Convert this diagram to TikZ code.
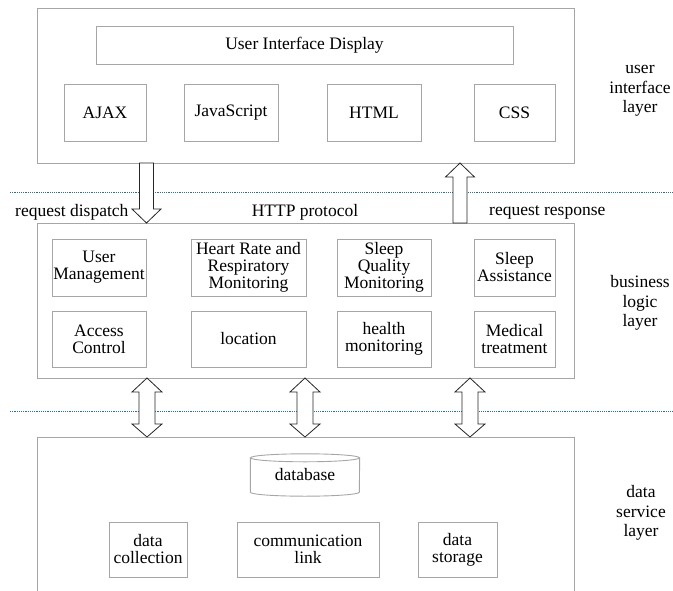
\documentclass[tikz,border=0pt]{standalone}
\usepackage{fontspec}
\setmainfont{Liberation Serif}
\usetikzlibrary{calc}
\definecolor{boxgray}{HTML}{A6A6A6}
\definecolor{dotblue}{HTML}{2F6F92}
\begin{document}
\begin{tikzpicture}[x=1pt,y=1pt,
  box/.style={draw=boxgray,line width=0.9pt,inner sep=0pt,outer sep=0pt,anchor=north west,
    align=center,font=\fontsize{17.5}{17}\selectfont},
  lbl/.style={inner sep=0pt,font=\fontsize{17.5}{17}\selectfont},
  side/.style={inner sep=0pt,align=center,font=\fontsize{17.5}{19.5}\selectfont},
  blk/.style={draw=black!85,fill=white,line width=0.8pt,line join=miter},
  sep/.style={draw=dotblue,line width=1pt,dash pattern=on 1.1pt off 1.1pt}]
\useasboundingbox (0,0) rectangle (673,-590);

% layer containers
\node[box,minimum width=537pt,minimum height=155pt] (top) at (37,-8) {};
\node[box,minimum width=537pt,minimum height=155pt] (mid) at (37,-223) {};
\node[box,minimum width=537pt,minimum height=170pt] (bot) at (37,-437) {};

% user interface layer
\node[box,minimum width=417pt,minimum height=38pt] (uid) at (96,-26) {User Interface Display};
\node[box,minimum width=82pt,minimum height=57pt] (ajax) at (64,-84) {AJAX};
\node[box,minimum width=94pt,minimum height=57pt] (js) at (184,-84) {JavaScript};
\node[box,minimum width=94pt,minimum height=57pt] (html) at (327,-84) {HTML};
\node[box,minimum width=81pt,minimum height=57pt] (css) at (474,-84) {CSS};

% business logic layer
\node[box,minimum width=94pt,minimum height=57pt] (um) at (52,-239) {User\\Management};
\node[box,minimum width=115pt,minimum height=57pt] (hr) at (191,-239) {Heart Rate and\\Respiratory\\Monitoring};
\node[box,minimum width=94pt,minimum height=57pt] (sq) at (337,-239) {Sleep\\Quality\\Monitoring};
\node[box,minimum width=81pt,minimum height=57pt] (sa) at (474,-239) {Sleep\\Assistance};
\node[box,minimum width=94pt,minimum height=56pt] (ac) at (52,-311) {Access\\Control};
\node[box,minimum width=115pt,minimum height=56pt] (loc) at (191,-311) {location};
\node[box,minimum width=94pt,minimum height=56pt] (hm) at (337,-311) {health\\monitoring};
\node[box,minimum width=81pt,minimum height=56pt] (mt) at (474,-311) {Medical\\treatment};

% data service layer
\node[lbl,minimum width=109pt,minimum height=42pt] (db) at (305,-475) {database};
\draw[draw=boxgray,line width=0.9pt]
  ($(db.north west)+(0,-4)$) -- ($(db.south west)+(0,4)$)
  arc[start angle=180,end angle=360,x radius=54.5pt,y radius=4pt]
  -- ($(db.north east)+(0,-4)$);
\draw[draw=boxgray,line width=0.9pt] ($(db.north)+(0,-4)$) ellipse[x radius=54.5pt,y radius=4pt];
\node[box,minimum width=78pt,minimum height=55pt] (dc) at (109,-522) {data\\collection};
\node[box,minimum width=142pt,minimum height=55pt] (cl) at (237,-522) {communication\\link};
\node[box,minimum width=79pt,minimum height=55pt] (ds) at (418,-522) {data\\storage};

% separators
\coordinate (s1a) at (10,-192); \coordinate (s1b) at (673,-192);
\coordinate (s2a) at (10,-411); \coordinate (s2b) at (673,-411);
\draw[sep] (s1a) -- (s1b);
\draw[sep] (s2a) -- (s2b);

% down arrow: request dispatch
\coordinate (d1) at (top.south -| 146.5,0);
\coordinate (d1e) at (mid.north -| 146.5,0);
\draw[blk] ($(d1)+(-7,0)$) -- ($(d1e)+(-7,14)$) -- ($(d1e)+(-14.5,14)$) -- (d1e)
  -- ($(d1e)+(14.5,14)$) -- ($(d1e)+(7,14)$) -- ($(d1)+(7,0)$) -- cycle;

% up arrow: request response
\coordinate (u1) at (mid.north -| 460,0);
\coordinate (u1e) at (top.south -| 460,0);
\draw[blk] ($(u1)+(-7,0)$) -- ($(u1e)+(-7,-14)$) -- ($(u1e)+(-14.5,-14)$) -- (u1e)
  -- ($(u1e)+(14.5,-14)$) -- ($(u1e)+(7,-14)$) -- ($(u1)+(7,0)$) -- cycle;

% double arrows
\foreach \xx/\nm in {147/da,305/db2,470/dc2}{
  \coordinate (\nm t) at (mid.south -| \xx,0);
  \coordinate (\nm b) at (bot.north -| \xx,0);
  \draw[blk] (\nm t) -- ($(\nm t)+(15,-14)$) -- ($(\nm t)+(8,-14)$) -- ($(\nm b)+(8,13)$)
    -- ($(\nm b)+(15,13)$) -- (\nm b) -- ($(\nm b)+(-15,13)$) -- ($(\nm b)+(-8,13)$)
    -- ($(\nm t)+(-8,-14)$) -- ($(\nm t)+(-15,-14)$) -- cycle;
}

% labels
\node[lbl,anchor=west] (reqd) at (15,-212) {request dispatch};
\node[lbl] (http) at (305,-212) {HTTP protocol};
\node[lbl,anchor=west] (reqr) at (489,-212) {request response};
\node[side] (uil) at (640,-91) {user\\interface\\layer};
\node[side] (bll) at (640,-303) {business\\logic\\layer};
\node[side] (dsl) at (641,-513) {data\\service\\layer};
\end{tikzpicture}
\end{document}
